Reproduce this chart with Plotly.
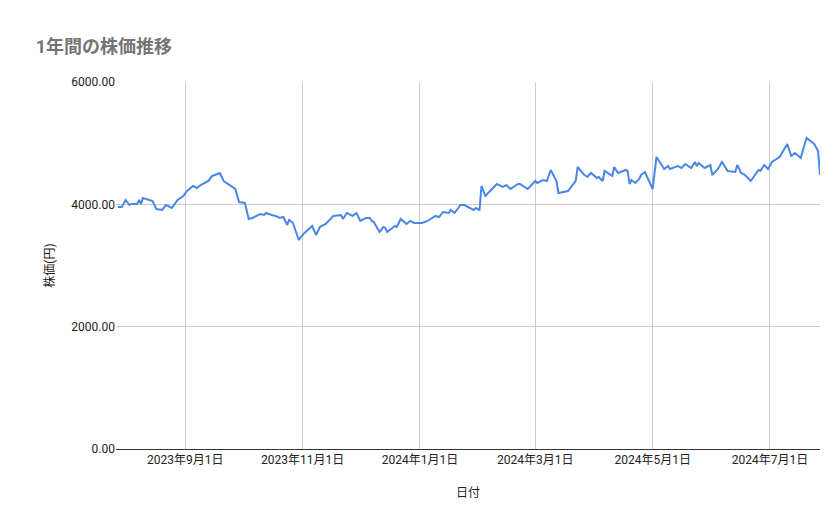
import plotly.graph_objects as go
import pandas as pd

base = pd.Timestamp("2023-09-01")
day_offsets = [-35,-33,-31,-29,-28,-25,-24,-23,-22,-18,-17,-15,-12,-10,-9,-7,-4,-1,1,4,6,8,12,14,18,20,26,28,31,33,35,39,41,42,45,47,49,51,53,54,56,59,62,66,68,70,73,77,81,82,84,87,
 89,91,94,96,97,98,101,103,104,105,109,110,112,115,117,119,123,126,130,132,134,137,138,140,142,143,145,150,151,153,154,156,159,161,162,165,167,169,173,174,178,180,182,183,186,188,190,193,194,199,203,204,207,
 209,211,214,215,217,218,222,223,225,229,230,231,232,234,236,237,239,243,245,249,251,252,256,258,260,263,265,266,267,270,273,274,277,279,282,286,287,289,291,294,298,299,301,303,305,309,313,314,315,317,320,321,323,327,329,330]
prices = [3957,3957,4071,3989,4006,4006,4071,4006,4104,4055,4055,3924,3908,3989,3973,3940,4071,4137,4218,4300,4267,4316,4382,4464,4513,4382,4251,4038,4022,3761,3777,3842,3826,3859,3826,3810,3777,3793,3662,3744,3695,3417,3532,3646,3499,3630,3679,3810,3826,3761,3859,3810,
 3859,3728,3777,3777,3728,3711,3548,3630,3613,3548,3646,3630,3761,3679,3728,3695,3695,3728,3810,3793,3875,3859,3908,3859,3940,3989,3989,3908,3940,3908,4300,4137,4235,4300,4333,4284,4316,4251,4333,4333,4251,4316,4382,4349,4398,4382,4562,4382,4186,4218,4382,4611,4496,4447,
 4513,4431,4447,4382,4545,4464,4611,4513,4562,4545,4333,4398,4349,4415,4480,4529,4251,4774,4578,4627,4578,4627,4594,4660,4594,4692,4627,4676,4594,4643,4480,4578,4692,4545,4529,4643,4513,4480,4382,4562,4545,4643,4578,4692,4774,4987,4889,4791,4840,4758,4872,5085,4987,4872,4479,4545]
dates = [base + pd.Timedelta(days=d) for d in day_offsets]
tick_dates = ["2023-09-01","2023-11-01","2024-01-01","2024-03-01","2024-05-01","2024-07-01"]
tick_text = ["2023年9月1日","2023年11月1日","2024年1月1日","2024年3月1日","2024年5月1日","2024年7月1日"]
y_ticks = [0, 2000, 4000, 6000]

fig = go.Figure(go.Scatter(x=dates, y=prices, mode="lines",
                           line=dict(color="#4a86e8", width=2)))
font = "Roboto, Noto Sans CJK JP, sans-serif"
fig.update_layout(
    width=839, height=519, plot_bgcolor="white", paper_bgcolor="white",
    margin=dict(l=108, r=27, t=74, b=78, autoexpand=False), showlegend=False,
    font=dict(family=font, color="#222", size=12),
    title=dict(text="<b>1年間の株価推移</b>", x=0.033, xanchor="left", y=0.925, yanchor="middle",
               font=dict(size=18, color="#757575", family=font)),
)
fig.update_xaxes(range=[base + pd.Timedelta(days=-36), base + pd.Timedelta(days=330)],
                 tickvals=tick_dates, ticktext=tick_text, showgrid=True, gridcolor="#cccccc",
                 title=dict(text="日付", font=dict(size=12), standoff=22), showline=True, linecolor="#333",
                 ticks="", tickfont=dict(size=12), automargin=False)
fig.update_yaxes(range=[0, 6000], tickvals=y_ticks, tickformat=".2f", gridcolor="#cccccc",
                 title=dict(text="株価(円)", font=dict(size=12), standoff=14), zeroline=False, ticks="",
                 tickfont=dict(size=12), automargin=False)
fig.write_html("out.html")
